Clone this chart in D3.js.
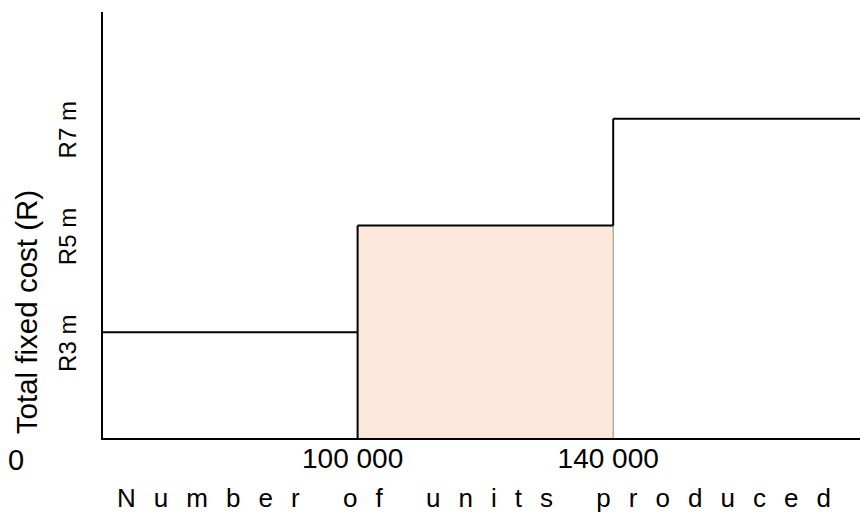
<!DOCTYPE html>
<html>
<head>
<meta charset="utf-8">
<script src="https://cdn.jsdelivr.net/npm/d3@7"></script>
<style>
  html, body { margin: 0; padding: 0; background: #ffffff; }
  svg { display: block; }
  text { font-family: "Liberation Sans", Arial, sans-serif; fill: #000; }
</style>
</head>
<body>
<svg id="chart" width="860" height="515"></svg>
<script>
// Output thresholds (units) where fixed cost steps up; last value closes the final band
const breakpoints = [0, 100000, 140000, 180000];
// Total fixed cost per band, in R millions
const costLevels = [3, 5, 7];
// Index of the band that is shaded
const highlightBand = 1;
const xTickValues = [100000, 140000];
const xTickLabels = ["100 000", "140 000"];
const yTickLabels = ["R3 m", "R5 m", "R7 m"];
const xTitle = "Number of units produced";
const yTitle = "Total fixed cost (R)";

const svg = d3.select("#chart");
const W = 860, H = 515;
const plotLeft = 102, plotBottom = 439, plotTop = 12;

// Schematic axes: each capacity band gets an equal width
const x = d3.scaleLinear()
  .domain(breakpoints)
  .range(breakpoints.map((d, i) => plotLeft + i * 255.6));
const y = d3.scaleLinear().domain([1, 9]).range([plotBottom, plotTop]);

const bands = costLevels.map((c, i) => ({ x0: breakpoints[i], x1: breakpoints[i + 1], cost: c }));

// Shaded band
const hb = bands[highlightBand];
svg.append("rect")
  .attr("x", x(hb.x0))
  .attr("y", y(hb.cost))
  .attr("width", x(hb.x1) - x(hb.x0))
  .attr("height", plotBottom - y(hb.cost))
  .attr("fill", "#fbe8da");

// Thin right edge of shaded band
svg.append("line")
  .attr("x1", x(hb.x1)).attr("x2", x(hb.x1))
  .attr("y1", y(hb.cost)).attr("y2", plotBottom)
  .attr("stroke", "#8a8a8a").attr("stroke-width", 1);

// Step function of fixed cost
const g = svg.append("g").attr("fill", "none").attr("stroke", "#000").attr("stroke-width", 2);
bands.forEach((b, i) => {
  g.append("line")
    .attr("x1", x(b.x0)).attr("x2", x(b.x1))
    .attr("y1", y(b.cost)).attr("y2", y(b.cost));
  if (i > 0) {
    const prev = bands[i - 1];
    const yFrom = i === highlightBand ? plotBottom : y(prev.cost);
    g.append("line")
      .attr("x1", x(b.x0)).attr("x2", x(b.x0))
      .attr("y1", yFrom).attr("y2", y(b.cost));
  }
});

// Axes
svg.append("line").attr("x1", plotLeft).attr("x2", plotLeft).attr("y1", plotTop).attr("y2", plotBottom + 1)
  .attr("stroke", "#000").attr("stroke-width", 2);
svg.append("line").attr("x1", plotLeft - 1).attr("x2", W).attr("y1", plotBottom).attr("y2", plotBottom)
  .attr("stroke", "#000").attr("stroke-width", 2);

// X tick labels
svg.selectAll("text.xtick").data(xTickValues).join("text")
  .attr("class", "xtick")
  .attr("x", d => x(d) - 5)
  .attr("y", 468)
  .attr("text-anchor", "middle")
  .attr("font-size", 28)
  .text((d, i) => xTickLabels[i]);

// Origin label
svg.append("text").attr("x", 16).attr("y", 470).attr("text-anchor", "middle")
  .attr("font-size", 29).text("0");

// Y tick labels (rotated)
svg.selectAll("text.ytick").data(costLevels).join("text")
  .attr("class", "ytick")
  .attr("transform", d => `translate(76,${y(d) + 11}) rotate(-90)`)
  .attr("text-anchor", "middle")
  .attr("font-size", 24)
  .text((d, i) => yTickLabels[i]);

// Axis titles
svg.append("text")
  .attr("transform", "translate(37,312) rotate(-90)")
  .attr("text-anchor", "middle")
  .attr("font-size", 29.5)
  .text(yTitle);

svg.append("text")
  .attr("x", 117).attr("y", 507)
  .attr("font-size", 26)
  .attr("textLength", 714)
  .attr("lengthAdjust", "spacing")
  .text(xTitle);
</script>
</body>
</html>
